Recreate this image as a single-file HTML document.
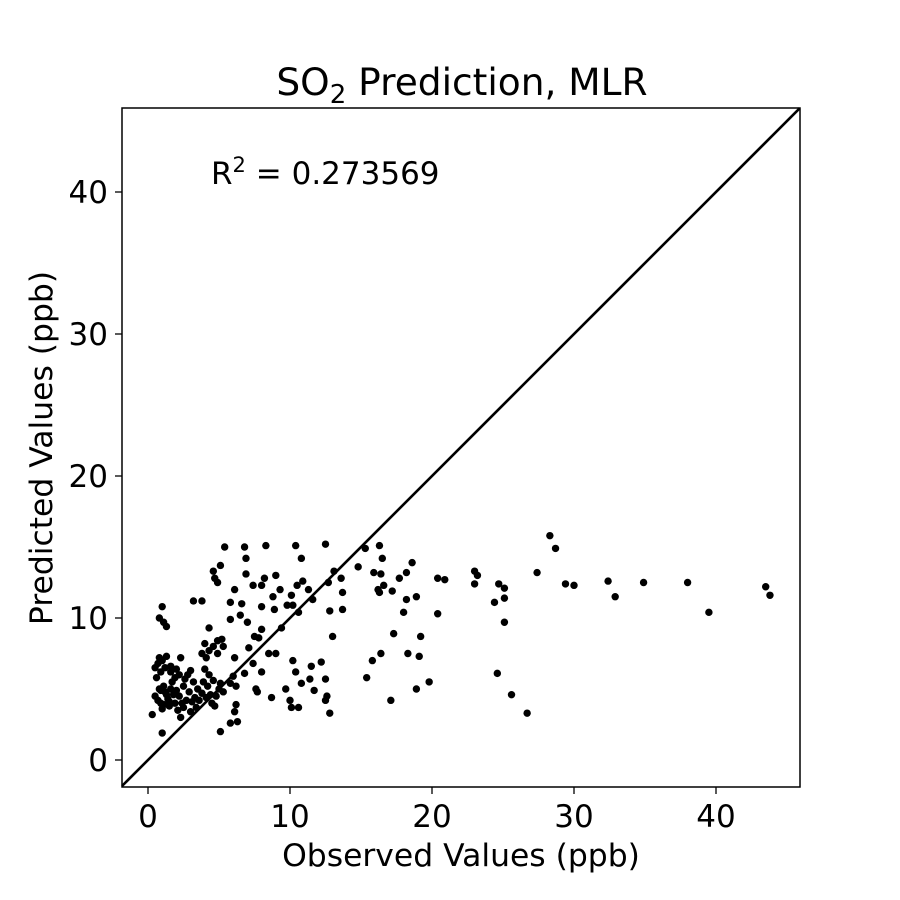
<!DOCTYPE html>
<html><head><meta charset="utf-8"><style>
body{margin:0;background:#fff}
svg{display:block;font-family:"DejaVu Sans","Liberation Sans",sans-serif}
</style></head><body>
<svg id="chart" width="900" height="900" viewBox="0 0 900 900">
<rect x="0" y="0" width="900" height="900" fill="#fff"/>
<text x="462" y="95" font-size="37.5" text-anchor="middle">SO<tspan font-size="26" dy="8">2</tspan><tspan dy="-8"> Prediction, MLR</tspan></text>
<text x="211" y="184" font-size="31">R<tspan font-size="21" dy="-12">2</tspan><tspan dy="12"> = 0.273569</tspan></text>
<text x="461" y="866" font-size="31.4" text-anchor="middle">Observed Values (ppb)</text>
<text transform="translate(52,448) rotate(-90)" font-size="31.4" text-anchor="middle">Predicted Values (ppb)</text>
<g id="marks"></g>
<g id="ticks"></g>
<rect x="122" y="108" width="678" height="679" fill="none" stroke="#000" stroke-width="1.5"/>
</svg>
<script>
const xTicks=[0,10,20,30,40];
const yTicks=[0,10,20,30,40];
const observed=[28.3,28.7,27.4,29.4,30.0,32.4,32.9,34.9,38.0,39.5,43.5,43.8,23.0,23.2,23.0,24.7,25.1,25.1,24.4,25.1,24.6,25.6,26.7,20.4,20.9,20.4,19.8,18.9,19.1,18.3,19.2,18.9,18.2,18.0,18.6,18.2,17.7,17.2,17.3,17.1,16.4,15.8,15.4,15.3,16.3,16.5,15.9,16.4,16.2,16.6,16.3,14.8,13.7,13.7,13.0,12.8,12.6,12.5,12.5,12.2,11.5,11.4,11.7,12.5,13.1,13.6,12.7,11.6,12.8,11.3,10.9,10.8,10.4,10.5,10.1,10.2,10.6,9.8,9.4,9.3,9.0,8.0,8.2,8.8,8.9,8.3,7.4,8.0,8.0,8.5,9.0,8.7,10.0,9.7,10.2,10.4,10.8,10.6,10.1,7.6,7.7,8.0,7.4,6.8,7.1,7.5,7.8,7.0,6.5,6.6,6.9,6.9,6.8,6.1,5.4,5.1,5.8,4.9,4.7,4.6,3.8,3.2,4.3,5.8,4.9,5.2,5.3,4.6,4.9,6.1,6.0,5.8,6.2,6.2,6.1,6.3,5.8,5.1,1.0,0.8,1.1,1.3,
0.3,0.5,0.7,0.8,0.9,0.7,0.8,1.0,1.2,1.3,1.1,1.2,1.4,1.5,1.0,0.9,1.6,1.8,1.7,1.6,2.0,2.2,1.9,2.1,2.3,2.2,2.5,2.6,2.8,3.0,3.2,2.9,2.7,2.5,3.0,3.3,3.5,3.6,3.8,3.9,4.0,4.1,4.3,4.2,4.4,4.5,4.7,4.8,5.0,4.6,4.3,4.0,3.8,1.3,0.6,1.1,1.5,2.0,2.4,3.4,1.0,0.5,1.6,2.3,5.3,5.1,0.9,1.9,3.1,4.1];
const predicted=[15.8,14.9,13.2,12.4,12.3,12.6,11.5,12.5,12.5,10.4,12.2,11.6,13.3,13.0,12.4,12.4,12.1,11.4,11.1,9.7,6.1,4.6,3.3,12.8,12.7,10.3,5.5,5.0,7.3,7.5,8.7,11.5,11.3,10.4,13.9,13.2,12.8,11.9,8.9,4.2,7.5,7.0,5.8,14.9,15.1,14.2,13.2,13.1,12.0,12.3,11.8,13.6,11.8,10.6,8.7,3.3,4.5,4.2,5.7,6.9,6.6,5.7,4.9,15.2,13.3,12.8,12.5,11.3,10.5,12.0,12.6,14.2,15.1,12.3,11.6,10.9,10.4,10.9,9.3,12.0,13.0,12.3,12.8,11.5,10.6,15.1,12.3,10.8,9.2,7.5,7.5,4.4,4.2,5.0,7.0,6.2,5.4,3.7,3.7,5.0,4.8,6.2,6.8,6.1,7.9,8.7,8.6,9.7,10.2,11.0,13.1,14.2,15.0,12.0,15.0,13.7,11.1,12.5,12.8,13.3,11.2,11.2,9.3,9.9,8.4,8.5,8.0,8.0,7.5,7.2,5.9,5.4,5.2,3.9,3.4,2.7,2.6,2.0,10.8,10.0,9.7,9.4,
3.2,4.5,4.2,5.0,6.2,6.8,7.2,7.0,6.5,7.3,5.2,4.8,4.3,3.8,3.6,4.0,5.0,4.6,5.5,6.2,6.4,6.0,4.0,3.5,3.0,4.5,5.2,5.7,6.0,6.3,5.5,4.8,4.2,3.7,3.4,4.4,5.0,4.2,4.7,5.5,6.4,7.2,6.0,5.2,4.6,4.0,3.8,4.5,5.0,5.6,7.7,8.2,7.5,4.6,5.8,3.9,4.1,4.9,4.0,3.7,1.9,6.5,6.6,7.2,4.8,5.4,4.9,5.8,4.1,4.4];
const X0=148,Y0=760,K=14.2;
const sx=v=>X0+v*K, sy=v=>Y0-v*K;
const NS='http://www.w3.org/2000/svg';
const marks=document.getElementById('marks');
const ticks=document.getElementById('ticks');
const lo=-1.83, hi=45.9;
const line=document.createElementNS(NS,'line');
line.setAttribute('x1',sx(lo));line.setAttribute('y1',sy(lo));
line.setAttribute('x2',sx(hi));line.setAttribute('y2',sy(hi));
line.setAttribute('stroke','#000');line.setAttribute('stroke-width','2.6');


marks.appendChild(line);
for(let i=0;i<observed.length;i++){
  const c=document.createElementNS(NS,'circle');
  c.setAttribute('cx',sx(observed[i]));c.setAttribute('cy',sy(predicted[i]));
  c.setAttribute('r','3.7');c.setAttribute('fill','#000');
  
  
  marks.appendChild(c);
}
xTicks.forEach(t=>{
  const l=document.createElementNS(NS,'line');
  l.setAttribute('x1',sx(t));l.setAttribute('x2',sx(t));l.setAttribute('y1',787);l.setAttribute('y2',794);
  l.setAttribute('stroke','#000');l.setAttribute('stroke-width','1.3');
  
  
  ticks.appendChild(l);
  const tx=document.createElementNS(NS,'text');
  tx.setAttribute('x',sx(t));tx.setAttribute('y',827);tx.setAttribute('font-size','31');tx.setAttribute('text-anchor','middle');
  tx.textContent=t;
  
  
  ticks.appendChild(tx);
});
yTicks.forEach(t=>{
  const l=document.createElementNS(NS,'line');
  l.setAttribute('x1',115);l.setAttribute('x2',122);l.setAttribute('y1',sy(t));l.setAttribute('y2',sy(t));
  l.setAttribute('stroke','#000');l.setAttribute('stroke-width','1.3');
  
  
  ticks.appendChild(l);
  const tx=document.createElementNS(NS,'text');
  tx.setAttribute('x',108);tx.setAttribute('y',sy(t)+11);tx.setAttribute('font-size','31');tx.setAttribute('text-anchor','end');
  tx.textContent=t;
  
  
  ticks.appendChild(tx);
});
</script>
</body></html>
